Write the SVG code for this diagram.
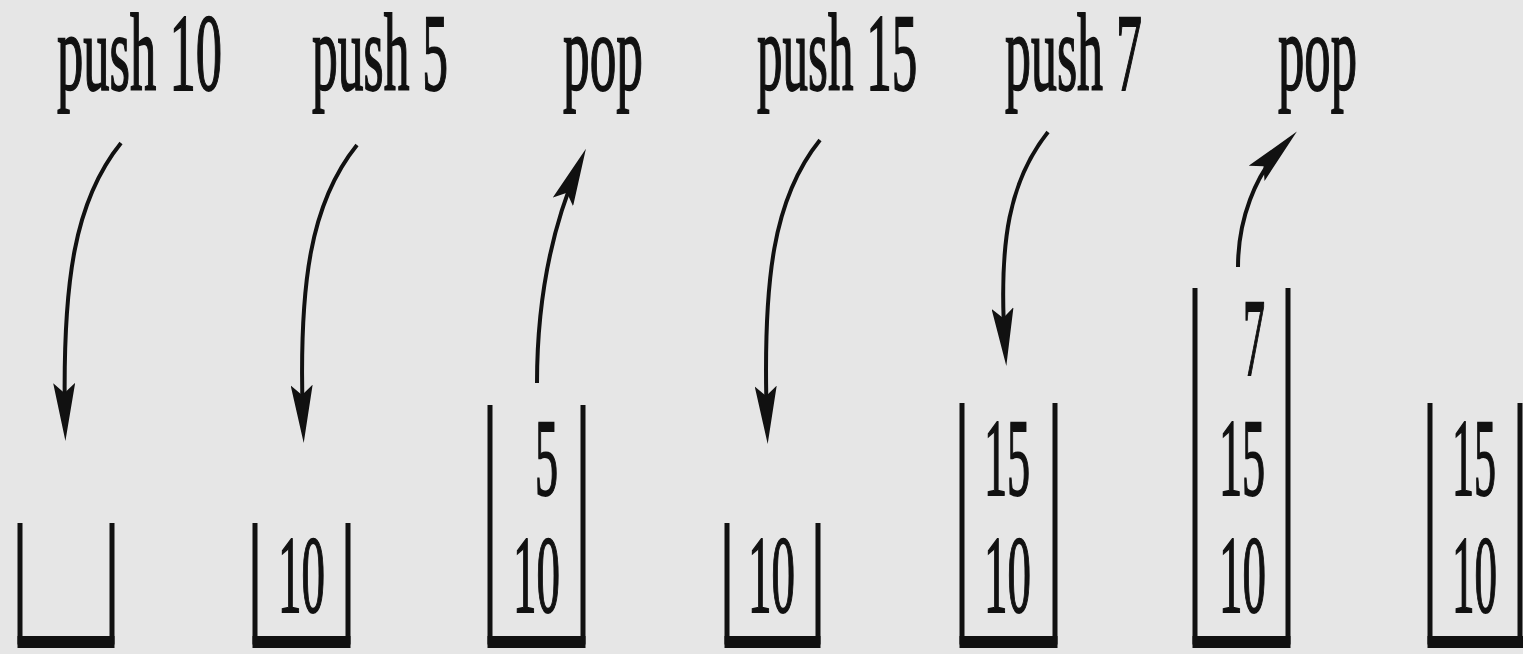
<svg xmlns="http://www.w3.org/2000/svg" width="1523" height="654" viewBox="0 0 1523 654">
  <defs>
    <style>
      .lbl { font-family: "Liberation Serif", "Times New Roman", serif; font-size: 110px; fill: #111; stroke: #111; stroke-width: 1.4; vector-effect: non-scaling-stroke; }
      .wall { fill: none; stroke: #111; stroke-width: 5; }
      .base { fill: #111; }
      .conn { fill: none; stroke: #111; stroke-width: 4; }
    </style>
    <marker id="ah" viewBox="0 0 60 22" markerUnits="userSpaceOnUse" markerWidth="60" markerHeight="22" refX="38" refY="11" orient="auto">
      <path d="M58,11 L0,0 L10,11 L0,22 Z" fill="#111"/>
    </marker>
  </defs>
  <rect width="1523" height="654" fill="#e6e6e6"/>

  <g id="op-push10"><text class="lbl" transform="translate(57,90) scale(0.478,1)">push 10</text></g>
  <g id="op-push5"><text class="lbl" transform="translate(312,90) scale(0.469,1)">push 5</text></g>
  <g id="op-pop1"><text class="lbl" transform="translate(563,90) scale(0.485,1)">pop</text></g>
  <g id="op-push15"><text class="lbl" transform="translate(757,90) scale(0.464,1)">push 15</text></g>
  <g id="op-push7"><text class="lbl" transform="translate(1005,90) scale(0.472,1)">push 7</text></g>
  <g id="op-pop2"><text class="lbl" transform="translate(1278,90) scale(0.479,1)">pop</text></g>

  <g id="stack1">
    <path class="wall" d="M20,523 V642 H112 V523"/>
    <rect class="base" x="17.5" y="636" width="97" height="12"/>
  </g>
  <g id="stack2">
    <path class="wall" d="M255,523 V642 H348 V523"/>
    <rect class="base" x="252.5" y="636" width="98" height="12"/>
    <text class="lbl" transform="translate(278,612) scale(0.427,1)">10</text>
  </g>
  <g id="stack3">
    <path class="wall" d="M490,405 V642 H583 V405"/>
    <rect class="base" x="487.5" y="636" width="98" height="12"/>
    <text class="lbl" transform="translate(535,495) scale(0.42,1)">5</text>
    <text class="lbl" transform="translate(513,612) scale(0.427,1)">10</text>
  </g>
  <g id="stack4">
    <path class="wall" d="M727,523 V642 H818 V523"/>
    <rect class="base" x="724.5" y="636" width="96" height="12"/>
    <text class="lbl" transform="translate(748,612) scale(0.427,1)">10</text>
  </g>
  <g id="stack5">
    <path class="wall" d="M962,403 V642 H1055 V403"/>
    <rect class="base" x="959.5" y="636" width="98" height="12"/>
    <text class="lbl" transform="translate(984,495) scale(0.42,1)">15</text>
    <text class="lbl" transform="translate(984,612) scale(0.427,1)">10</text>
  </g>
  <g id="stack6">
    <path class="wall" d="M1195,288 V642 H1288 V288"/>
    <rect class="base" x="1192.5" y="636" width="98" height="12"/>
    <text class="lbl" transform="translate(1243,375) scale(0.40,1)">7</text>
    <text class="lbl" transform="translate(1219,495) scale(0.42,1)">15</text>
    <text class="lbl" transform="translate(1219,612) scale(0.427,1)">10</text>
  </g>
  <g id="stack7">
    <path class="wall" d="M1430,403 V642 H1520 V403"/>
    <rect class="base" x="1427.5" y="636" width="96" height="12"/>
    <text class="lbl" transform="translate(1452,495) scale(0.40,1)">15</text>
    <text class="lbl" transform="translate(1452,612) scale(0.41,1)">10</text>
  </g>

  <g id="connectors">
    <path class="conn" marker-end="url(#ah)" d="M121,143 C75,200 62,280 65,421"/>
    <path class="conn" marker-end="url(#ah)" d="M357,145 C311,202 298,282 303,423"/>
    <path class="conn" marker-end="url(#ah)" d="M537,383 C537,305 550,232 578,167"/>
    <path class="conn" marker-end="url(#ah)" d="M820,140 C774,197 762,277 767,424"/>
    <path class="conn" marker-end="url(#ah)" d="M1048,132 C1010,180 998,240 1005,346"/>
    <path class="conn" marker-end="url(#ah)" d="M1238,267 C1238,220 1255,175 1283,146"/>
  </g>
</svg>
